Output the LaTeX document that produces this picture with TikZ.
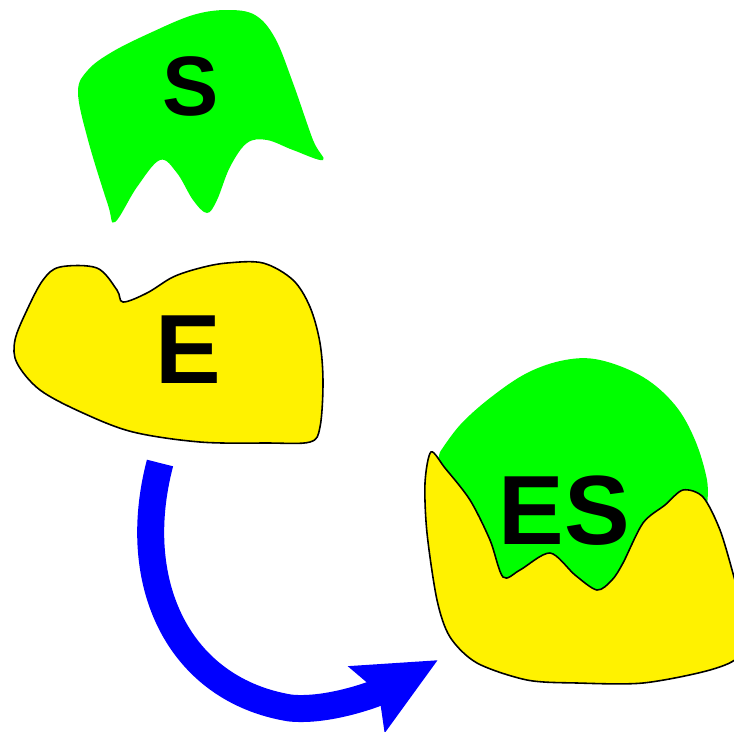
\documentclass[tikz,border=0pt]{standalone}
\usepackage{fontspec}
\setmainfont{Liberation Sans}
\usetikzlibrary{arrows.meta}
\def\bigletter#1{\bfseries\fontsize{#1}{#1}\selectfont}

\tikzset{
	enzyme/.style={fill=yellow, draw=black, line width=0.9pt},
	substrate/.style={fill=green},
	letter/.style={inner sep=0pt, font=\bigletter{56pt}},
	turn/.style={draw=blue, line width=0.54cm, -{Stealth[length=1.6cm, width=1.45cm, inset=0.25cm]}}
}

\begin{document}
\begin{tikzpicture}[x=0.02cm, y=-0.02cm]
		%%%%% START %%%%%
		\useasboundingbox (0, 0) rectangle (734, 731);
		\clip (0, 0) rectangle (734, 731);
		
		% free substrate
		\fill[substrate] plot[smooth cycle, tension=0.6] coordinates {
			(78, 92) (88, 70) (112, 52) (150, 33) (193, 15) (227, 10) (255, 15)
			(275, 38) (293, 83) (313, 140) (323, 160) (293, 150) (267, 140)
			(247, 143) (230, 167) (217, 200) (207, 213) (193, 200) (177, 173)
			(160, 160) (137, 187) (115, 222) (108, 205) (88, 140)};
		\node[letter, font=\bigletter{48pt}] (S) at (191, 86) {S};
		
		% free enzyme
		\draw[enzyme] plot[smooth cycle, tension=0.55] coordinates {
			(60, 267) (97, 268) (117, 290) (123, 302) (147, 293) (173, 277)
			(200, 268) (227, 263) (263, 263) (293, 280) (310, 307) (320, 343)
			(323, 383) (320, 427) (310, 442) (267, 443) (200, 442) (133, 432)
			(83, 413) (40, 390) (17, 363) (15, 340) (27, 310) (43, 280)};
		\node[letter] (E) at (188, 350) {E};
		
		% complex: substrate sitting in the enzyme
		\fill[substrate] plot[smooth, tension=0.6] coordinates {
			(440, 452) (460, 425) (490, 398) (527, 373) (565, 360) (600, 360)
			(643, 377) (675, 405) (695, 440) (707, 480) (707, 505)}
			-- (700, 600) -- (450, 600) -- (435, 470) -- cycle;
		\draw[enzyme] plot[smooth cycle, tension=0.5] coordinates {
			(431, 452) (445, 468) (470, 500) (490, 540) (503, 577) (520, 570)
			(550, 553) (575, 575) (597, 590) (612, 580) (623, 563) (643, 523)
			(665, 505) (683, 490) (703, 497) (720, 530) (734, 577) (745, 620)
			(740, 655) (710, 670) (643, 683) (577, 683) (527, 680) (477, 663)
			(450, 637) (437, 600) (427, 533) (425, 483)};
		\node[letter] (ES) at (564, 511) {ES};
		
		% binding step
		\coordinate (bind) at (160, 463);
		\coordinate (bound) at (438, 660);
		\draw[turn] (bind) .. controls (128, 585) and (180, 690) .. (290, 708)
			.. controls (330, 712) and (380, 692) .. (bound);
		
		%%%%% END %%%%%
	\end{tikzpicture}
\end{document}
